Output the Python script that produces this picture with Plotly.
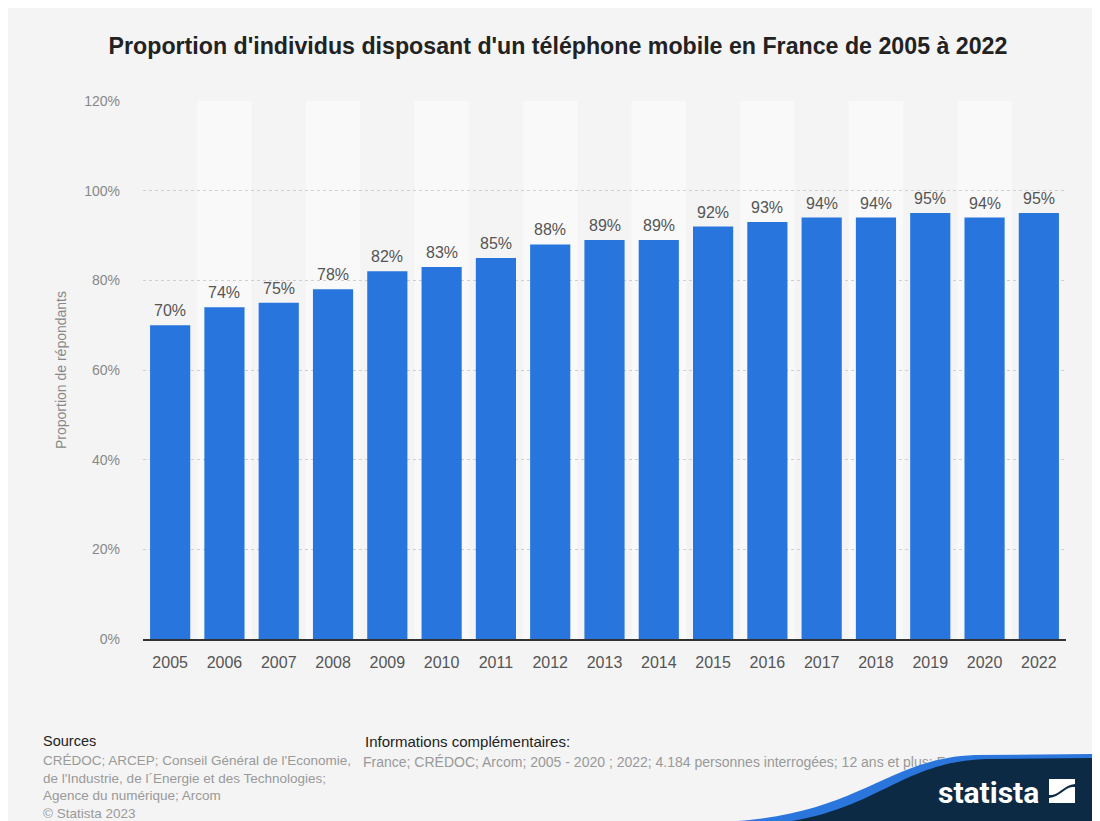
import plotly.graph_objects as go

years = ["2005", "2006", "2007", "2008", "2009", "2010", "2011", "2012", "2013",
         "2014", "2015", "2016", "2017", "2018", "2019", "2020", "2022"]
values = [70, 74, 75, 78, 82, 83, 85, 88, 89, 89, 92, 93, 94, 94, 95, 94, 95]
y_ticks = [0, 20, 40, 60, 80, 100, 120]
y_tick_labels = [f"{v}%" for v in y_ticks]
info_text = ("France; CRÉDOC; Arcom; 2005 - 2020 ; 2022; 4.184 personnes interrogées; "
             "12 ans et plus; Face-à-face")

FONT = "Liberation Sans, Arial, sans-serif"
W, H = 1092, 813
OFF = 8  # page margin offset of the browser body
L, R, T, B = 135, 34, 93, 182


def fx(x):
    return x - OFF


def fy(y):
    return y - OFF


fig = go.Figure()
fig.add_trace(go.Bar(
    x=years, y=values,
    marker=dict(color="#2876dd", line=dict(width=0)),
    width=0.74,
    hoverinfo="skip",
    xaxis="x", yaxis="y",
))
# footer info line as a trace so that the logo wave can cover it
fig.add_trace(go.Scatter(
    x=[fx(363)], y=[fy(763)], mode="text", text=[info_text],
    textposition="middle right",
    textfont=dict(size=14, color="#999999", family=FONT),
    hoverinfo="skip", xaxis="x2", yaxis="y2", cliponaxis=False,
))

shapes = []
# alternating column stripes
for i in range(len(years)):
    if i % 2 == 1:
        shapes.append(dict(type="rect", xref="x", yref="y", x0=i - 0.5, x1=i + 0.5,
                           y0=0, y1=120, fillcolor="#f9f9f9", line=dict(width=0),
                           layer="below"))

# statista logo wave (figure pixel coords on the x2/y2 overlay)
blue_path = (f"M {fx(738)},{fy(830)} L {fx(738)},{fy(821)} C {fx(860)},{fy(812)} {fx(890)},{fy(758)} {fx(975)},{fy(755)} "
             f"L {fx(1101)},{fy(754)} L {fx(1101)},{fy(830)} Z")
navy_path = (f"M {fx(792)},{fy(830)} L {fx(792)},{fy(821)} C {fx(880)},{fy(806)} {fx(905)},{fy(762)} {fx(985)},{fy(759)} "
             f"L {fx(1101)},{fy(758)} L {fx(1101)},{fy(830)} Z")
shapes.append(dict(type="path", xref="x2", yref="y2", path=blue_path,
                   fillcolor="#2a76dc", line=dict(width=0), layer="above"))
shapes.append(dict(type="path", xref="x2", yref="y2", path=navy_path,
                   fillcolor="#0c2a44", line=dict(width=0), layer="above"))
# statista icon
icon1 = (f"M {fx(1049)},{fy(779)} L {fx(1075)},{fy(779)} L {fx(1075)},{fy(784)} "
         f"C {fx(1064)},{fy(785)} {fx(1060)},{fy(794)} {fx(1052)},{fy(795)} L {fx(1049)},{fy(795)} Z")
icon2 = (f"M {fx(1075)},{fy(803)} L {fx(1049)},{fy(803)} L {fx(1049)},{fy(798)} "
         f"C {fx(1060)},{fy(797)} {fx(1064)},{fy(788)} {fx(1072)},{fy(787)} L {fx(1075)},{fy(787)} Z")
for p in (icon1, icon2):
    shapes.append(dict(type="path", xref="x2", yref="y2", path=p,
                       fillcolor="#ffffff", line=dict(width=0), layer="above"))

annotations = [
    dict(x=i, y=v, text=f"{v}%", xref="x", yref="y", showarrow=False,
         yanchor="bottom", yshift=4,
         font=dict(size=16, color="#555555", family=FONT))
    for i, v in enumerate(values)
]
annotations += [
    dict(text="<b>statista</b>", x=fx(1041), y=fy(792), xref="x2", yref="y2",
         xanchor="right", yanchor="middle", showarrow=False,
         font=dict(size=30, color="#ffffff", family="Roboto, sans-serif")),
    dict(text="Sources", x=fx(41), y=fy(741), xref="x2", yref="y2",
         xanchor="left", yanchor="middle", showarrow=False,
         font=dict(size=14.5, color="#222222", family=FONT)),
    dict(text="CRÉDOC; ARCEP; Conseil Général de l'Economie,<br>de l'Industrie, de l´Energie et des Technologies;<br>Agence du numérique; Arcom<br>© Statista 2023",
         x=fx(41), y=fy(751), xref="x2", yref="y2", align="left",
         xanchor="left", yanchor="top", showarrow=False,
         font=dict(size=13.5, color="#999999", family=FONT)),
    dict(text="Informations complémentaires:", x=fx(363), y=fy(741), xref="x2", yref="y2",
         xanchor="left", yanchor="middle", showarrow=False,
         font=dict(size=15, color="#222222", family=FONT)),
]

fig.update_layout(
    width=W, height=H,
    autosize=False,
    margin=dict(l=0, r=0, t=0, b=0, autoexpand=False),
    paper_bgcolor="#f4f4f4",
    plot_bgcolor="rgba(0,0,0,0)",
    showlegend=False,
    bargap=0.26,
    title=dict(text="<b>Proportion d'individus disposant d'un téléphone mobile en France de 2005 à 2022</b>",
               x=550 / W, xref="container", y=1 - 38 / H, yref="container",
               yanchor="middle", xanchor="center",
               font=dict(size=23.2, color="#222222", family=FONT)),
    xaxis=dict(
        type="category",
        domain=[L / W, (W - R) / W],
        anchor="y",
        automargin=False,
        range=[-0.5, len(years) - 0.5],
        showgrid=False,
        showline=True, linecolor="#333333", linewidth=1.5,
        ticks="", tickfont=dict(size=16, color="#555555", family=FONT),
        ticklabelstandoff=8,
        fixedrange=True,
    ),
    yaxis=dict(
        domain=[B / H, (H - T) / H],
        anchor="x",
        automargin=False,
        range=[0, 120],
        tickvals=y_ticks, ticktext=y_tick_labels,
        showgrid=True, gridcolor="#cfcfcf", griddash="dot", gridwidth=1,
        zeroline=False, showline=False, ticks="",
        tickfont=dict(size=14, color="#888888", family=FONT),
        ticklabelstandoff=22,
        title=dict(text="Proportion de répondants", standoff=14,
                   font=dict(size=14, color="#888888", family=FONT)),
        fixedrange=True,
    ),
    xaxis2=dict(domain=[0, 1], range=[0, W], anchor="y2", visible=False,
                automargin=False, fixedrange=True),
    yaxis2=dict(domain=[0, 1], range=[H, 0], anchor="x2", visible=False,
                automargin=False, fixedrange=True),
    shapes=shapes,
    annotations=annotations,
)

fig.write_html("out.html")
